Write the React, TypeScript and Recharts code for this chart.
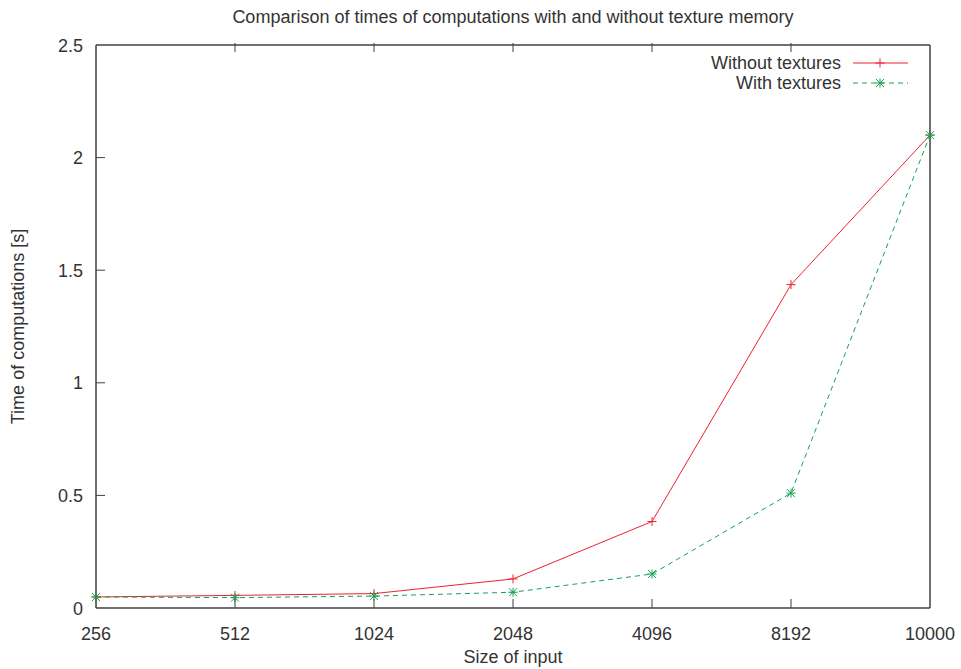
import React from 'react';
import { LineChart, Line, XAxis, YAxis } from 'recharts';

const sizes = ['256', '512', '1024', '2048', '4096', '8192', '10000'];
const withoutTextures = [0.049, 0.056, 0.064, 0.129, 0.384, 1.436, 2.1];
const withTextures = [0.049, 0.046, 0.053, 0.07, 0.151, 0.51, 2.1];
const yTicks = [0, 0.5, 1, 1.5, 2, 2.5];

const data = sizes.map((s, i) => ({ size: s, without: withoutTextures[i], with: withTextures[i] }));

const RED = '#ee2230';
const GREEN = '#0fa552';
const FRAME = '#404040';
const TEXT = '#333333';
const FONT = '"Liberation Sans", Arial, sans-serif';
const FS = 18;

const PlusDot = (props: any) => {
  const { cx, cy } = props;
  if (cx == null || cy == null) return null;
  return (
    <g stroke={RED} strokeWidth={1}>
      <line x1={cx - 4.5} y1={cy} x2={cx + 4.5} y2={cy} />
      <line x1={cx} y1={cy - 4.5} x2={cx} y2={cy + 4.5} />
    </g>
  );
};

const StarDot = (props: any) => {
  const { cx, cy } = props;
  if (cx == null || cy == null) return null;
  return (
    <g stroke={GREEN} strokeWidth={1}>
      <line x1={cx - 4.5} y1={cy} x2={cx + 4.5} y2={cy} />
      <line x1={cx} y1={cy - 4.5} x2={cx} y2={cy + 4.5} />
      <line x1={cx - 4} y1={cy - 4} x2={cx + 4} y2={cy + 4} />
      <line x1={cx - 4} y1={cy + 4} x2={cx + 4} y2={cy - 4} />
    </g>
  );
};

// tick labels with inward tick marks (gnuplot style)
const BottomTick = (props: any) => {
  const { x, y, payload, index, visibleTicksCount } = props;
  const axisY = y - 10;
  const edge = index === 0 || index === visibleTicksCount - 1;
  return (
    <g>
      {!edge && <line x1={x} y1={axisY} x2={x} y2={axisY - 9} stroke={FRAME} />}
      <text x={x} y={y + 22} textAnchor="middle" fill={TEXT} fontSize={FS} fontFamily={FONT}>
        {payload.value}
      </text>
    </g>
  );
};

const TopTick = (props: any) => {
  const { x, y, index, visibleTicksCount } = props;
  const edge = index === 0 || index === visibleTicksCount - 1;
  if (edge) return null;
  return <line x1={x} y1={y} x2={x} y2={y + 9} stroke={FRAME} />;
};

const LeftTick = (props: any) => {
  const { x, y, payload, index, visibleTicksCount } = props;
  const axisX = x + 13;
  const edge = index === 0 || index === visibleTicksCount - 1;
  return (
    <g>
      {!edge && <line x1={axisX} y1={y} x2={axisX + 9} y2={y} stroke={FRAME} />}
      <text x={x} y={y + 6.5} textAnchor="end" fill={TEXT} fontSize={FS} fontFamily={FONT}>
        {payload.value}
      </text>
    </g>
  );
};

const RightTick = (props: any) => {
  const { x, y, index, visibleTicksCount } = props;
  const edge = index === 0 || index === visibleTicksCount - 1;
  if (edge) return null;
  return <line x1={x} y1={y} x2={x - 9} y2={y} stroke={FRAME} />;
};

const keys = [
  { label: 'Without textures', color: RED, dash: undefined as string | undefined, star: false },
  { label: 'With textures', color: GREEN, dash: '5 4', star: true },
];

const KeyBox = () => (
  <div style={{ position: 'absolute', top: 53, right: 53, fontFamily: FONT, fontSize: FS, color: TEXT }}>
    {keys.map((k) => (
      <div key={k.label} style={{ display: 'flex', alignItems: 'center', justifyContent: 'flex-end', height: 20 }}>
        <span style={{ marginRight: 12, lineHeight: '20px' }}>{k.label}</span>
        <svg width={55} height={12} style={{ display: 'block' }}>
          <line x1={0} y1={6} x2={55} y2={6} stroke={k.color} strokeDasharray={k.dash} />
          {k.star ? <StarDot cx={27} cy={6} /> : <PlusDot cx={27} cy={6} />}
        </svg>
      </div>
    ))}
  </div>
);

export default function App() {
  return (
    <div style={{ position: 'absolute', left: 0, top: 0, width: 961, height: 669 }}>
      <div
        style={{
          position: 'absolute', top: 7, left: 96, width: 834, textAlign: 'center',
          fontFamily: FONT, fontSize: FS, color: TEXT, whiteSpace: 'nowrap',
        }}
      >
        Comparison of times of computations with and without texture memory
      </div>
      <LineChart width={961} height={669} data={data} margin={{ top: 44, right: 30, left: 0, bottom: 0 }}>
        <XAxis
          dataKey="size"
          xAxisId="bottom"
          height={61}
          tickSize={0}
          tickMargin={10}
          tickLine={false}
          stroke={FRAME}
          strokeWidth={1.5}
          interval={0}
          tick={<BottomTick />}
          label={{ value: 'Size of input', position: 'insideBottom', offset: 6, fill: TEXT, fontSize: FS, fontFamily: FONT }}
        />
        <XAxis
          dataKey="size"
          xAxisId="top"
          orientation="top"
          height={1}
          tickSize={0}
          tickLine={false}
          stroke={FRAME}
          strokeWidth={1.5}
          interval={0}
          tick={<TopTick />}
        />
        <YAxis
          yAxisId="left"
          width={96}
          domain={[0, 2.5]}
          ticks={yTicks}
          tickSize={0}
          tickMargin={13}
          tickLine={false}
          stroke={FRAME}
          strokeWidth={1.5}
          tick={<LeftTick />}
          label={{ value: 'Time of computations [s]', angle: -90, position: 'insideLeft', offset: 18, fill: TEXT, fontSize: FS, fontFamily: FONT, style: { textAnchor: 'middle' } }}
        />
        <YAxis
          yAxisId="right"
          orientation="right"
          width={1}
          domain={[0, 2.5]}
          ticks={yTicks}
          tickSize={0}
          tickLine={false}
          stroke={FRAME}
          strokeWidth={1.5}
          tick={<RightTick />}
        />
        <Line
          xAxisId="bottom"
          yAxisId="left"
          dataKey="without"
          name="Without textures"
          stroke={RED}
          strokeWidth={1}
          dot={<PlusDot />}
          activeDot={false}
          isAnimationActive={false}
        />
        <Line
          xAxisId="bottom"
          yAxisId="left"
          dataKey="with"
          name="With textures"
          stroke={GREEN}
          strokeWidth={1}
          strokeDasharray="5 4"
          dot={<StarDot />}
          activeDot={false}
          isAnimationActive={false}
        />
      </LineChart>
      <KeyBox />
    </div>
  );
}
